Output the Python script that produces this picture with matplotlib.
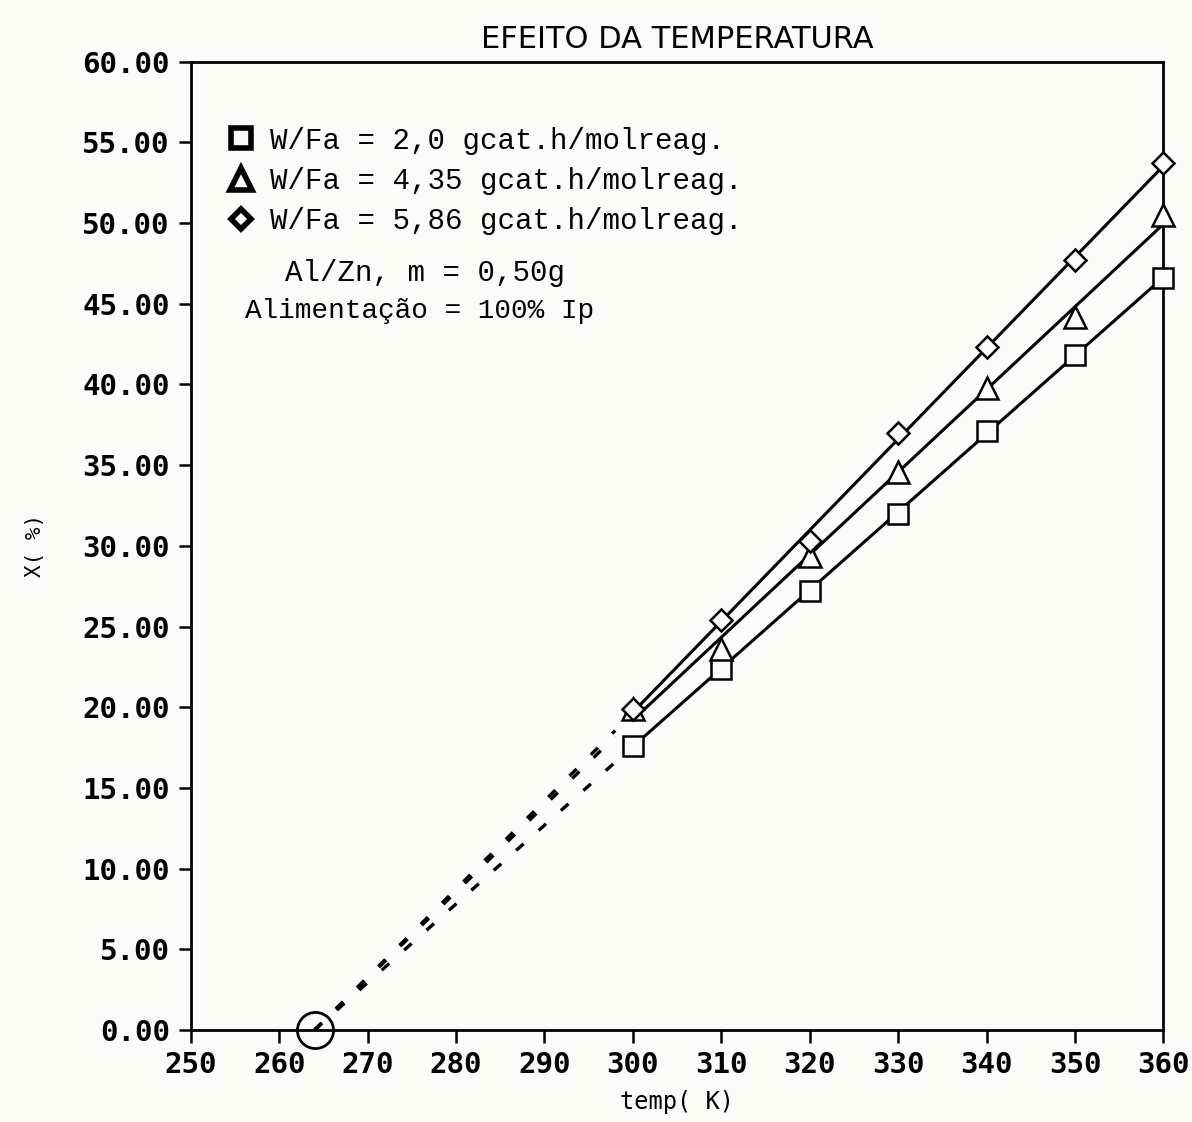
import numpy as np
import matplotlib
matplotlib.use('Agg')
import matplotlib.pyplot as plt
from matplotlib.lines import Line2D
from matplotlib.font_manager import FontProperties

# temperatures (K) and conversion X (%)
temp = [300, 310, 320, 330, 340, 350, 360]
x_20 = [17.6, 22.4, 27.2, 32.0, 37.1, 41.8, 46.6]
x_435 = [19.9, 23.6, 29.4, 34.6, 39.8, 44.2, 50.5]
x_586 = [19.9, 25.4, 30.3, 37.0, 42.3, 47.7, 53.7]

labels = ['W/Fa = 2,0 gcat.h/molreag.',
          'W/Fa = 4,35 gcat.h/molreag.',
          'W/Fa = 5,86 gcat.h/molreag.']
markers = ['s', '^', 'D']
msizes = [15, 16, 11]

# extrapolated intercept (X = 0)
t_zero = 264.0
t_dash_end = 298.0

xticks = list(range(250, 361, 10))
yticks = list(np.arange(0, 60.1, 5))

bg = '#fcfbf6'
fig = plt.figure(figsize=(11.92, 11.22), dpi=100, facecolor=bg)
ax = fig.add_axes([0.160, 0.082, 0.816, 0.863])
ax.set_facecolor(bg)

series = [x_20, x_435, x_586]
for vals, mk, ms in zip(series, markers, msizes):
    slope, icpt = np.polyfit(temp, vals, 1)
    tt = np.array([temp[0], temp[-1]])
    ax.plot(tt, slope * tt + icpt, color='black', lw=2.2, zorder=2, clip_on=False)
    # dashed extrapolation down to the common intercept
    ax.plot([t_zero, t_dash_end], [0, slope * t_dash_end + icpt], color='black',
            lw=2.4, linestyle=(0, (3, 6)), zorder=2)
    ax.plot(temp, vals, linestyle='none', marker=mk, markersize=ms,
            markerfacecolor=bg, markeredgecolor='black', markeredgewidth=1.8,
            zorder=3, clip_on=False)

ax.plot([t_zero], [0], marker='o', markersize=26, markerfacecolor='none',
        markeredgecolor='black', markeredgewidth=2, clip_on=False, zorder=4)

ax.set_xlim(250, 360)
ax.set_ylim(0, 60)
ax.set_xticks(xticks)
ax.set_yticks(yticks)
ax.set_yticklabels([f'{v:.2f}' for v in yticks])
tick_fp = FontProperties(family='DejaVu Sans Mono', size=21, weight='bold')
for lab in ax.get_xticklabels() + ax.get_yticklabels():
    lab.set_fontproperties(tick_fp)
ax.tick_params(direction='out', length=9, width=1.8, pad=6, colors='black')
for sp in ax.spines.values():
    sp.set_linewidth(2)

ax.set_title('EFEITO DA TEMPERATURA', fontsize=22, family='DejaVu Sans', pad=10)
ax.set_xlabel('temp( K)', fontsize=17, family='DejaVu Sans Mono', labelpad=8)
ax.set_ylabel('X( %)', fontsize=15, family='DejaVu Sans Mono', labelpad=27)

handles = [Line2D([], [], linestyle='none', marker=mk, markersize=ms * 0.95,
                  markerfacecolor=bg, markeredgecolor='black', markeredgewidth=4)
           for mk, ms in zip(markers, msizes)]
ax.legend(handles, labels, loc='upper left', bbox_to_anchor=(0.01, 0.96),
          frameon=False, prop=dict(family='Liberation Mono', size=21),
          handletextpad=0.5, labelspacing=0.42, handlelength=1.0)

ax.text(0.097, 0.782, 'Al/Zn, m = 0,50g', transform=ax.transAxes,
        family='Liberation Mono', size=21, va='center')
ax.text(0.056, 0.743, 'Alimentação = 100% Ip', transform=ax.transAxes,
        family='Liberation Mono', size=20, va='center')

fig.savefig('out.png', dpi=100, facecolor=bg)
